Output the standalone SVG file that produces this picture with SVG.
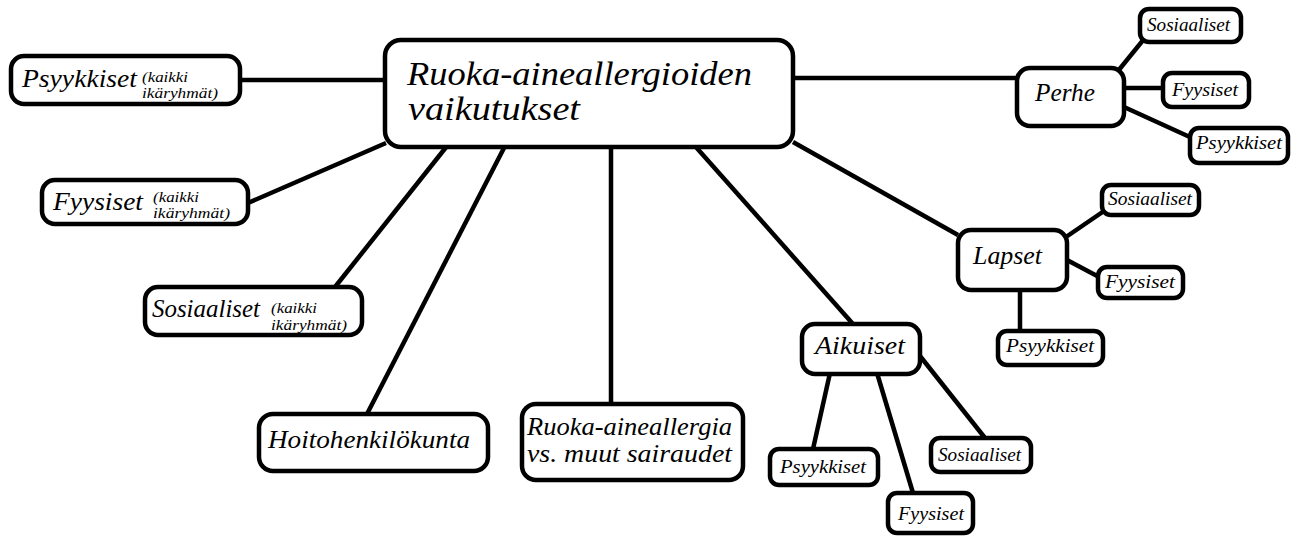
<svg xmlns="http://www.w3.org/2000/svg" width="1299" height="536" viewBox="0 0 1299 536">
<style>
.box{fill:#fff;stroke:#000;stroke-width:4.5}
.ln{stroke:#000;stroke-width:4.5;fill:none;stroke-linecap:butt}
.c{font-size:34px}
.m{font-size:25px}
.s{font-size:18px}
.t{font-size:14px}
</style>
<rect width="1299" height="536" fill="#fff"/>
<g id="connectors">
<line class="ln" x1="240" y1="80" x2="385" y2="80"/>
<line class="ln" x1="248" y1="203" x2="386" y2="143"/>
<line class="ln" x1="335" y1="287" x2="447" y2="146"/>
<line class="ln" x1="367" y1="414" x2="505" y2="146"/>
<line class="ln" x1="611" y1="146" x2="611" y2="404"/>
<line class="ln" x1="695" y1="146" x2="853" y2="324"/>
<line class="ln" x1="793" y1="142" x2="958" y2="235"/>
<line class="ln" x1="793" y1="78" x2="1018" y2="78"/>
<line class="ln" x1="1118" y1="71" x2="1144" y2="39"/>
<line class="ln" x1="1124" y1="88" x2="1164" y2="88"/>
<line class="ln" x1="1124" y1="107" x2="1192" y2="138"/>
<line class="ln" x1="1066" y1="237" x2="1104" y2="211"/>
<line class="ln" x1="1067" y1="260" x2="1099" y2="277"/>
<line class="ln" x1="1020" y1="289" x2="1020" y2="331"/>
<line class="ln" x1="830" y1="373" x2="813" y2="449"/>
<line class="ln" x1="877" y1="373" x2="913" y2="493"/>
<line class="ln" x1="920" y1="356" x2="985" y2="438"/>
</g>
<g font-family="'Liberation Serif', 'DejaVu Serif', serif" font-style="italic" fill="#000">
<g id="center">
<rect class="box" x="385" y="40" width="408" height="107" rx="16"/>
<text class="c" x="407" y="85" textLength="345" lengthAdjust="spacingAndGlyphs">Ruoka-aineallergioiden</text>
<text class="c" x="408" y="120" textLength="172" lengthAdjust="spacingAndGlyphs">vaikutukset</text>
</g>
<g id="psyykkiset-all">
<rect class="box" x="11" y="56" width="229" height="48" rx="13"/>
<text class="m" x="22" y="87" textLength="115" lengthAdjust="spacingAndGlyphs">Psyykkiset</text>
<text class="t" x="142" y="82" textLength="46" lengthAdjust="spacingAndGlyphs">(kaikki</text>
<text class="t" x="142" y="98" textLength="76" lengthAdjust="spacingAndGlyphs">ikäryhmät)</text>
</g>
<g id="fyysiset-all">
<rect class="box" x="42" y="180" width="206" height="44" rx="13"/>
<text class="m" x="53" y="210" textLength="90" lengthAdjust="spacingAndGlyphs">Fyysiset</text>
<text class="t" x="153" y="202" textLength="46" lengthAdjust="spacingAndGlyphs">(kaikki</text>
<text class="t" x="153" y="218" textLength="77" lengthAdjust="spacingAndGlyphs">ikäryhmät)</text>
</g>
<g id="sosiaaliset-all">
<rect class="box" x="145" y="287" width="217" height="48" rx="13"/>
<text class="m" x="152" y="317" textLength="108" lengthAdjust="spacingAndGlyphs">Sosiaaliset</text>
<text class="t" x="271" y="313" textLength="46" lengthAdjust="spacingAndGlyphs">(kaikki</text>
<text class="t" x="271" y="330" textLength="76" lengthAdjust="spacingAndGlyphs">ikäryhmät)</text>
</g>
<g id="hoitohenkilokunta">
<rect class="box" x="259" y="414" width="229" height="57" rx="14"/>
<text class="m" x="268" y="448" textLength="202" lengthAdjust="spacingAndGlyphs">Hoitohenkilökunta</text>
</g>
<g id="vs-muut">
<rect class="box" x="522" y="404" width="221" height="76" rx="14"/>
<text class="m" x="527" y="435" textLength="205" lengthAdjust="spacingAndGlyphs">Ruoka-aineallergia</text>
<text class="m" x="527" y="462" textLength="205" lengthAdjust="spacingAndGlyphs">vs. muut sairaudet</text>
</g>
<g id="perhe">
<rect class="box" x="1017" y="68" width="107" height="58" rx="13"/>
<text class="m" x="1035" y="101" textLength="60" lengthAdjust="spacingAndGlyphs">Perhe</text>
</g>
<g id="perhe-sosiaaliset">
<rect class="box" x="1140" y="9" width="101" height="33" rx="9"/>
<text class="s" x="1147" y="31" textLength="83" lengthAdjust="spacingAndGlyphs">Sosiaaliset</text>
</g>
<g id="perhe-fyysiset">
<rect class="box" x="1163" y="73" width="86" height="34" rx="9"/>
<text class="s" x="1172" y="96" textLength="66" lengthAdjust="spacingAndGlyphs">Fyysiset</text>
</g>
<g id="perhe-psyykkiset">
<rect class="box" x="1190" y="128" width="98" height="35" rx="9"/>
<text class="s" x="1196" y="149" textLength="86" lengthAdjust="spacingAndGlyphs">Psyykkiset</text>
</g>
<g id="lapset">
<rect class="box" x="958" y="230" width="109" height="60" rx="13"/>
<text class="m" x="973" y="264" textLength="69" lengthAdjust="spacingAndGlyphs">Lapset</text>
</g>
<g id="lapset-sosiaaliset">
<rect class="box" x="1102" y="185" width="97" height="30" rx="9"/>
<text class="s" x="1108" y="205" textLength="84" lengthAdjust="spacingAndGlyphs">Sosiaaliset</text>
</g>
<g id="lapset-fyysiset">
<rect class="box" x="1098" y="267" width="85" height="31" rx="9"/>
<text class="s" x="1105" y="288" textLength="70" lengthAdjust="spacingAndGlyphs">Fyysiset</text>
</g>
<g id="lapset-psyykkiset">
<rect class="box" x="998" y="331" width="105" height="34" rx="9"/>
<text class="s" x="1006" y="352" textLength="88" lengthAdjust="spacingAndGlyphs">Psyykkiset</text>
</g>
<g id="aikuiset">
<rect class="box" x="802" y="324" width="118" height="50" rx="13"/>
<text class="m" x="815" y="354" textLength="90" lengthAdjust="spacingAndGlyphs">Aikuiset</text>
</g>
<g id="aikuiset-psyykkiset">
<rect class="box" x="770" y="449" width="108" height="36" rx="9"/>
<text class="s" x="780" y="473" textLength="86" lengthAdjust="spacingAndGlyphs">Psyykkiset</text>
</g>
<g id="aikuiset-fyysiset">
<rect class="box" x="888" y="493" width="85" height="40" rx="9"/>
<text class="s" x="898" y="520" textLength="66" lengthAdjust="spacingAndGlyphs">Fyysiset</text>
</g>
<g id="aikuiset-sosiaaliset">
<rect class="box" x="931" y="438" width="100" height="34" rx="9"/>
<text class="s" x="938" y="461" textLength="83" lengthAdjust="spacingAndGlyphs">Sosiaaliset</text>
</g>
</g>
</svg>
